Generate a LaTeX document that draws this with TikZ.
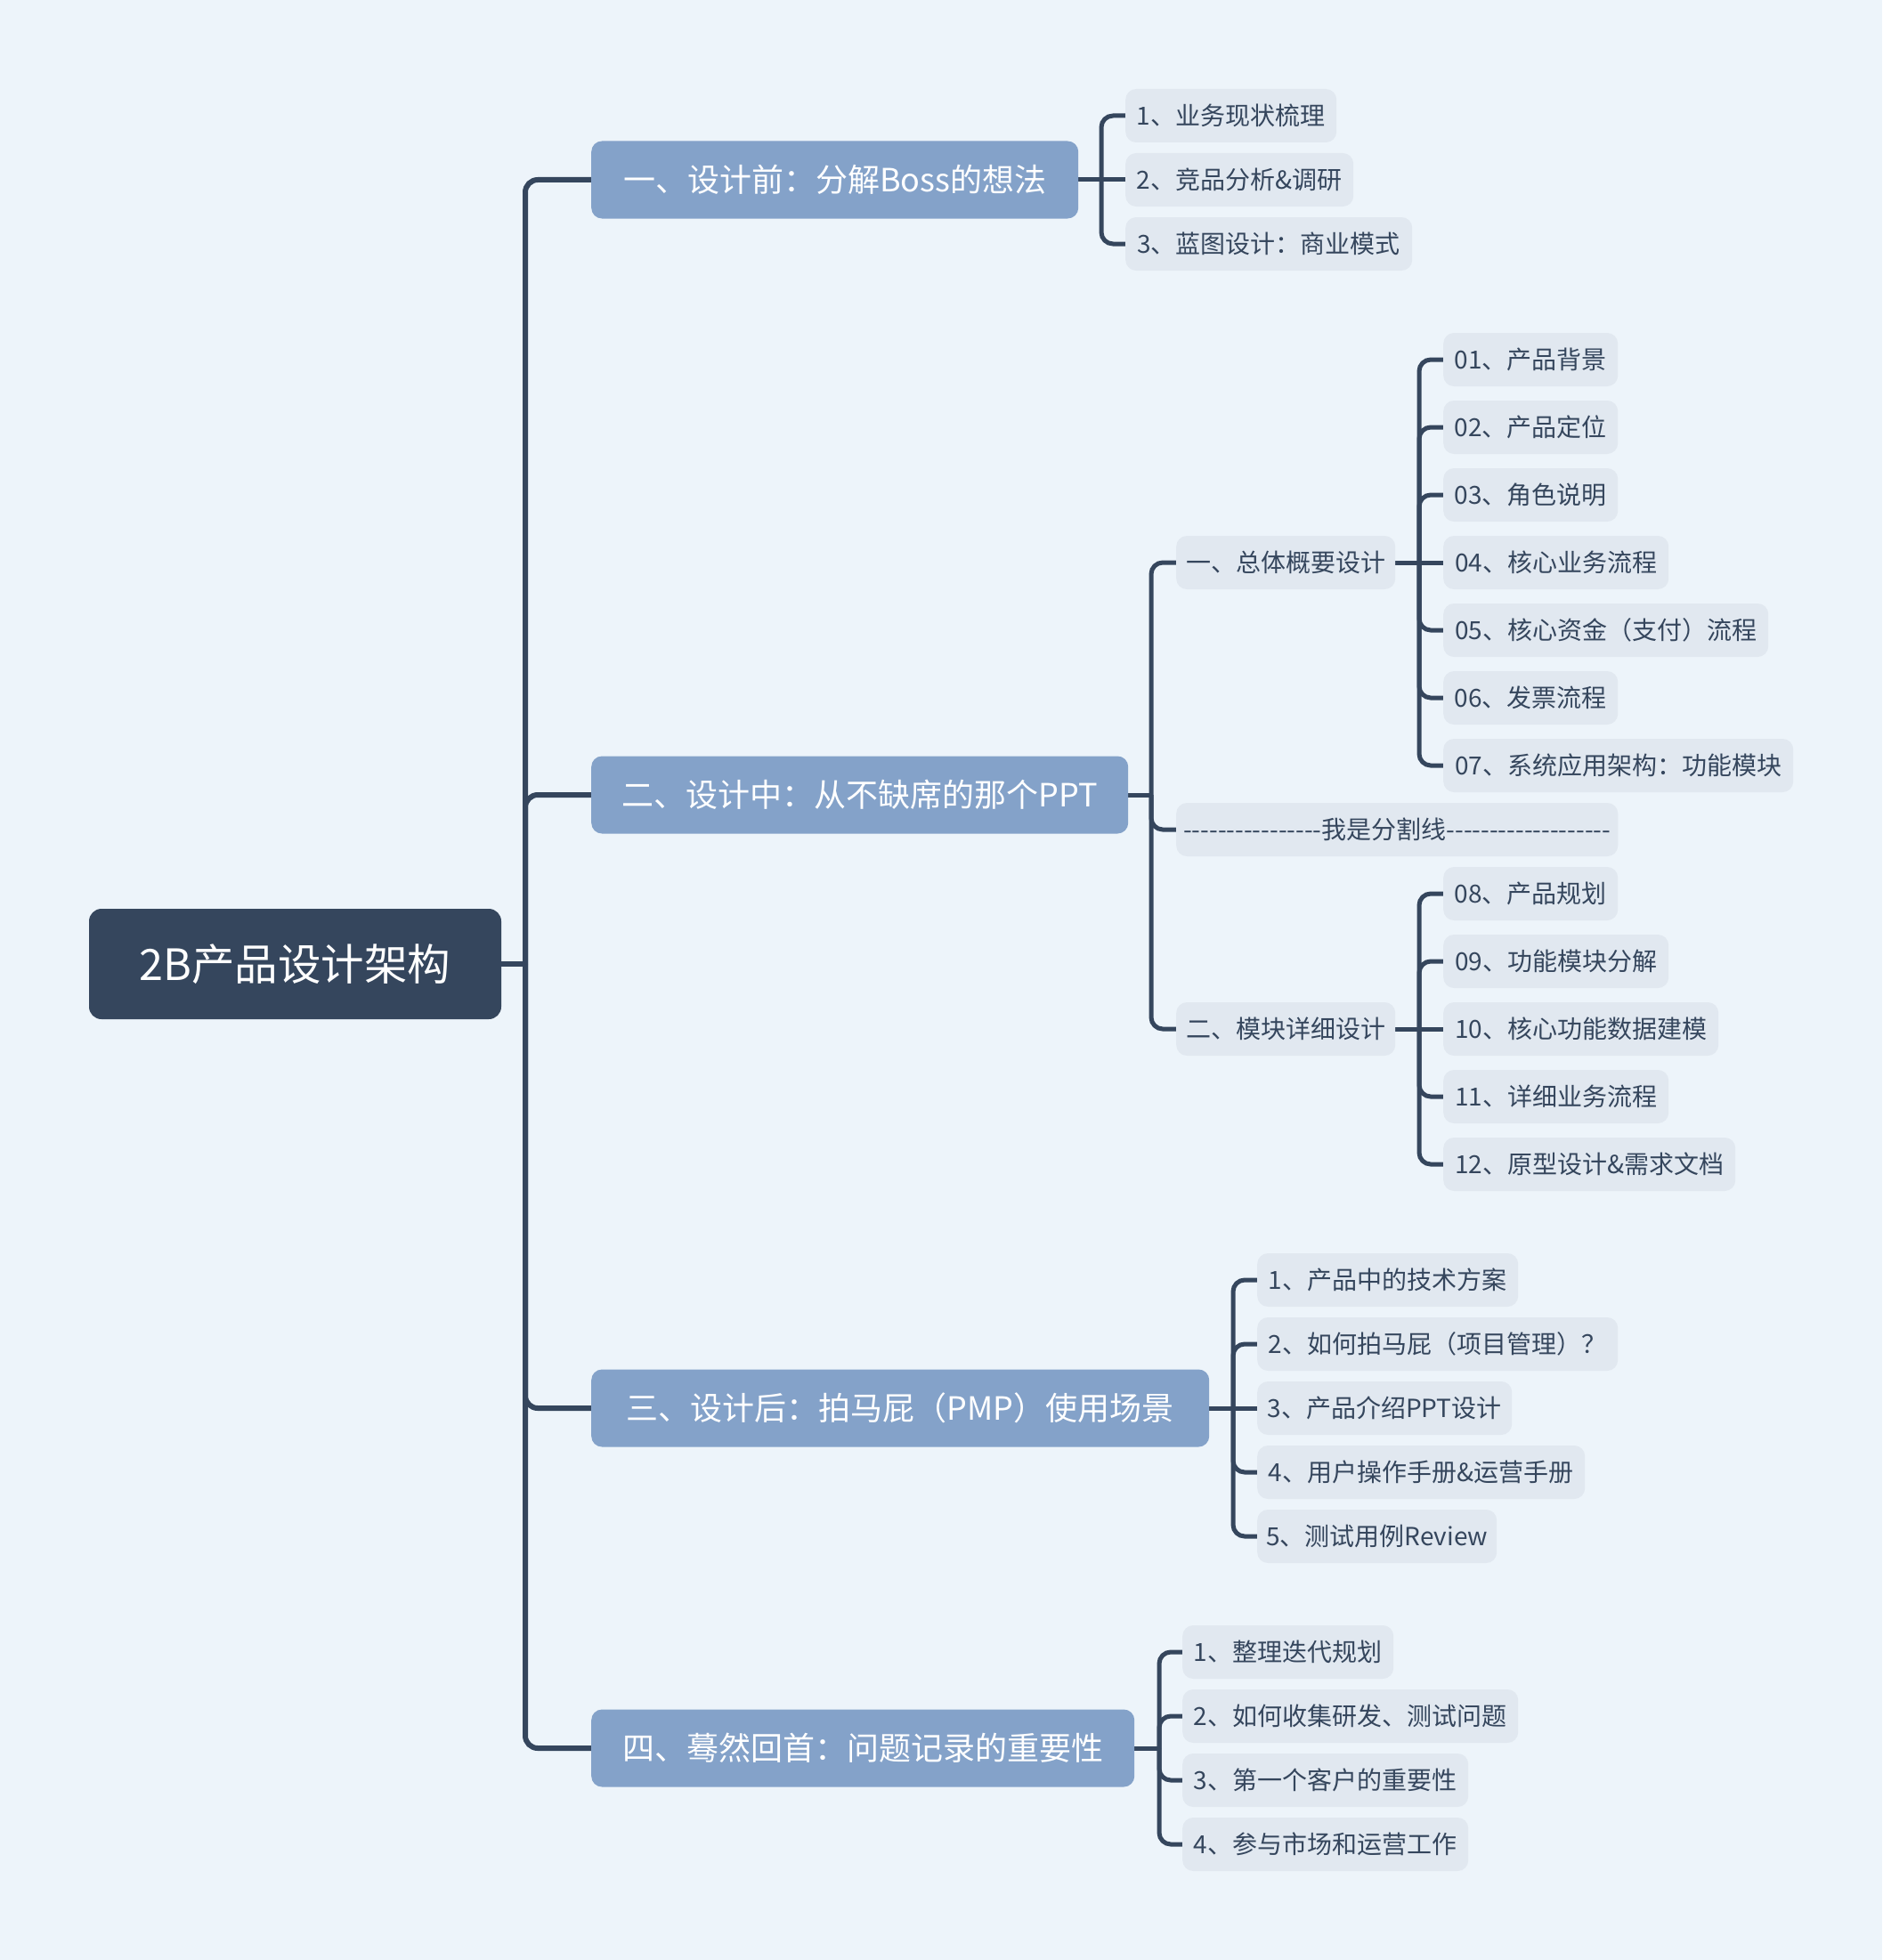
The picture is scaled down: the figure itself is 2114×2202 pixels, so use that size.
\documentclass[tikz,border=0pt]{standalone}
\usepackage{fontspec}
\newfontfamily\cjk{Noto Sans CJK SC}
\usetikzlibrary{backgrounds}
\definecolor{bg}{HTML}{EDF4FA}
\definecolor{navy}{HTML}{35465D}
\definecolor{mid}{HTML}{84A2C9}
\definecolor{leaffill}{HTML}{E1E8F0}
\newcommand{\hy}{-\kern0pt}
\tikzset{
  leaf/.style={fill=leaffill, text=navy, rounded corners=12, minimum height=60,
    inner xsep=8, inner ysep=0, anchor=west, font=\cjk\fontsize{28}{34}\selectfont,
    text height=24.6, text depth=3.4},
  lone/.style={fill=mid, text=white, rounded corners=12, minimum height=87,
    inner xsep=20, inner ysep=0, anchor=west, font=\cjk\fontsize{36}{44}\selectfont,
    text height=31.7, text depth=4.3},
  rootbox/.style={fill=navy, text=white, rounded corners=14, minimum height=124,
    minimum width=463, inner xsep=20, inner ysep=0, font=\cjk\fontsize{48.5}{58}\selectfont,
    text height=42.7, text depth=5.8},
  conn/.style={draw=navy, line width=5, rounded corners=13},
  trunk/.style={draw=navy, line width=6, rounded corners=14}
}
\begin{document}
\begin{tikzpicture}[x=1pt,y=-1pt]
\begin{pgfonlayer}{background}
\fill[bg] (0,0) rectangle (2114,2202);
\end{pgfonlayer}
\useasboundingbox (0,0) rectangle (2114,2202);

% root
\node[rootbox] (root) at (331.5,1083) {2B产品设计架构};

% level 1
\node[lone, minimum width=547] (A) at (664,202) {一、设计前：分解Boss的想法};
\node[lone, minimum width=603] (B) at (664,893) {二、设计中：从不缺席的那个PPT};
\node[lone, minimum width=694] (C) at (664,1582) {三、设计后：拍马屁（PMP）使用场景};
\node[lone, minimum width=610] (D) at (664,1964) {四、蓦然回首：问题记录的重要性};

% A children
\node[leaf, minimum width=237] (A1) at (1264,130) {1、业务现状梳理};
\node[leaf, minimum width=256] (A2) at (1264,202) {2、竞品分析\&调研};
\node[leaf, minimum width=322] (A3) at (1264,274) {3、蓝图设计：商业模式};

% B children
\node[leaf, minimum width=246] (B1) at (1321,632) {一、总体概要设计};
\node[leaf, minimum width=496] (BS) at (1321,932) {\hy\hy\hy\hy\hy\hy\hy\hy\hy\hy\hy\hy\hy\hy\hy\hy{}我是分割线\hy\hy\hy\hy\hy\hy\hy\hy\hy\hy\hy\hy\hy\hy\hy\hy\hy\hy\hy{}};
\node[leaf, minimum width=246] (B2) at (1321,1156) {二、模块详细设计};

% B1 children
\node[leaf, minimum width=196] (B11) at (1621,404) {01、产品背景};
\node[leaf, minimum width=196] (B12) at (1621,480) {02、产品定位};
\node[leaf, minimum width=196] (B13) at (1621,556) {03、角色说明};
\node[leaf, minimum width=253] (B14) at (1621,632) {04、核心业务流程};
\node[leaf, minimum width=365] (B15) at (1621,708) {05、核心资金（支付）流程};
\node[leaf, minimum width=196] (B16) at (1621,784) {06、发票流程};
\node[leaf, minimum width=393] (B17) at (1621,860) {07、系统应用架构：功能模块};

% B2 children
\node[leaf, minimum width=196] (B21) at (1621,1004) {08、产品规划};
\node[leaf, minimum width=253] (B22) at (1621,1080) {09、功能模块分解};
\node[leaf, minimum width=309] (B23) at (1621,1156) {10、核心功能数据建模};
\node[leaf, minimum width=253] (B24) at (1621,1232) {11、详细业务流程};
\node[leaf, minimum width=328] (B25) at (1621,1308) {12、原型设计\&需求文档};

% C children
\node[leaf, minimum width=293] (C1) at (1412,1438) {1、产品中的技术方案};
\node[leaf, minimum width=405] (C2) at (1412,1510) {2、如何拍马屁（项目管理）？};
\node[leaf, minimum width=286] (C3) at (1412,1582) {3、产品介绍PPT设计};
\node[leaf, minimum width=368] (C4) at (1412,1654) {4、用户操作手册\&运营手册};
\node[leaf, minimum width=269] (C5) at (1412,1726) {5、测试用例Review};

% D children
\node[leaf, minimum width=237] (D1) at (1328,1856) {1、整理迭代规划};
\node[leaf, minimum width=377] (D2) at (1328,1928) {2、如何收集研发、测试问题};
\node[leaf, minimum width=321] (D3) at (1328,2000) {3、第一个客户的重要性};
\node[leaf, minimum width=321] (D4) at (1328,2072) {4、参与市场和运营工作};

% junctions
\coordinate (jR) at (590,1083);
\coordinate (jA) at (1237,202);
\coordinate (jB) at (1293,893);
\coordinate (jB1) at (1594,632);
\coordinate (jB2) at (1594,1156);
\coordinate (jC) at (1385,1582);
\coordinate (jD) at (1302,1964);

\begin{pgfonlayer}{background}
% trunk
\draw[trunk] (root.east) -- (jR);
\foreach \n in {A,B,C,D} \draw[trunk] (jR) |- (\n.west);
% A
\draw[conn] (A.east) -- (jA);
\draw[conn] (jA) |- (A1.west);
\draw[conn] (jA) -- (A2.west);
\draw[conn] (jA) |- (A3.west);
% B
\draw[conn] (B.east) -- (jB);
\foreach \n in {B1,BS,B2} \draw[conn] (jB) |- (\n.west);
% B1
\draw[conn] (B1.east) -- (jB1);
\foreach \n in {B11,B12,B13,B15,B16,B17} \draw[conn] (jB1) |- (\n.west);
\draw[conn] (jB1) -- (B14.west);
% B2
\draw[conn] (B2.east) -- (jB2);
\foreach \n in {B21,B22,B24,B25} \draw[conn] (jB2) |- (\n.west);
\draw[conn] (jB2) -- (B23.west);
% C
\draw[conn] (C.east) -- (jC);
\foreach \n in {C1,C2,C4,C5} \draw[conn] (jC) |- (\n.west);
\draw[conn] (jC) -- (C3.west);
% D
\draw[conn] (D.east) -- (jD);
\foreach \n in {D1,D2,D3,D4} \draw[conn] (jD) |- (\n.west);
\end{pgfonlayer}
\end{tikzpicture}
\end{document}
